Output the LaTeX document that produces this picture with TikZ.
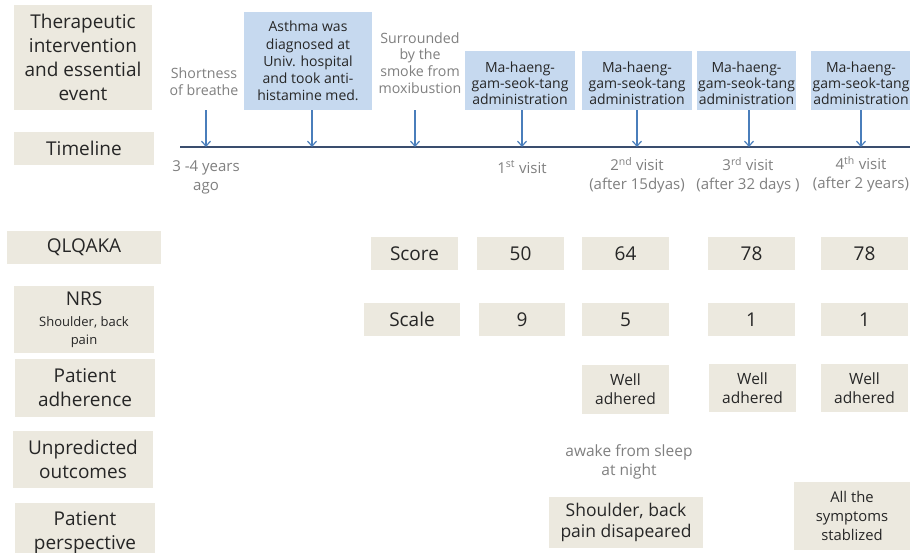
\documentclass[tikz,border=0pt]{standalone}
\usepackage{fontspec}
\setmainfont{Open Sans}
\usetikzlibrary{arrows.meta}
\definecolor{beige}{HTML}{ECE9DF}
\definecolor{blueb}{HTML}{C6D9EF}
\definecolor{arrowc}{HTML}{4A7EBB}
\definecolor{linec}{HTML}{3A4D6E}
\definecolor{darkt}{HTML}{262626}
\definecolor{greyt}{HTML}{7F7F7F}
\tikzset{
  lab/.style={fill=beige, text=darkt, align=center, inner sep=0pt, font=\fontsize{19}{24}\selectfont},
  bl/.style={fill=blueb, text=darkt, align=center, inner sep=0pt, font=\fontsize{14}{17.2}\selectfont},
  bltext/.style={text=darkt, align=center, inner sep=0pt, font=\fontsize{14}{16.2}\selectfont},
  val/.style={fill=beige, text=darkt, align=center, inner sep=0pt, minimum height=33pt, minimum width=87pt, font=\fontsize{19}{22}\selectfont},
  wa/.style={fill=beige, text=darkt, align=center, inner sep=0pt, minimum width=87pt, font=\fontsize{15.5}{19}\selectfont},
  gr/.style={text=greyt, align=center, inner sep=0pt, font=\fontsize{14.2}{16.7}\selectfont},
  tl/.style={text=greyt, align=center, inner sep=0pt, font=\fontsize{15}{19}\selectfont},
  arr/.style={draw=arrowc, line width=1.2pt, -{Straight Barb[length=5pt,width=9pt]}},
}
\begin{document}
\begin{tikzpicture}[x=1pt,y=-1pt]
\useasboundingbox (0,0) rectangle (910,552);
\clip (0,0) rectangle (910,552);

% left labels
\node[lab, minimum width=138pt, minimum height=105pt] (l1) at (83,57.5) {Therapeutic\\intervention\\and essential\\event};
\node[lab, minimum width=140pt, minimum height=33pt] (l2) at (84,148.5) {Timeline};
\node[lab, minimum width=154pt, minimum height=33pt] (l3) at (84,247.5) {QLQAKA};
\node[lab, minimum width=140pt, minimum height=67pt] (l4) at (84,319.5) {NRS\\[-3pt]\fontsize{13}{15.5}\selectfont Shoulder, back\\[-6pt]\fontsize{13}{15.5}\selectfont pain};
\node[lab, minimum width=140pt, minimum height=58pt] (l5) at (85,388) {Patient\\adherence};
\node[lab, minimum width=140pt, minimum height=57pt] (l6) at (83,459.5) {Unpredicted\\outcomes};
\node[lab, minimum width=140pt, minimum height=60pt] (l7) at (85,533) {Patient\\perspective};

% events
\node[gr] (e1) at (204,82) {Shortness\\of breathe};
\node[bl, minimum width=128pt, minimum height=98pt] (e2) at (308,61) {Asthma was\\diagnosed at\\Univ. hospital\\and took anti-\\histamine med.};
\node[gr] (e3) at (420,63) {Surrounded\\by the\\smoke from\\moxibustion};
\node[bl, minimum width=110pt, minimum height=59pt] (m1) at (520,80.5) {};
\node[bl, minimum width=110pt, minimum height=59pt] (m2) at (637,80.5) {};
\node[bl, minimum width=99pt, minimum height=59pt] (m3) at (746.5,80.5) {};
\node[bl, minimum width=100pt, minimum height=59pt] (m4) at (861,80.5) {};
\node[bltext] (m1t) at ([yshift=-3pt]m1.center) {Ma-haeng-\\gam-seok-tang\\administration};
\node[bltext] (m2t) at ([yshift=-3pt]m2.center) {Ma-haeng-\\gam-seok-tang\\administration};
\node[bltext] (m3t) at ([yshift=-3pt]m3.center) {Ma-haeng-\\gam-seok-tang\\administration};
\node[bltext] (m4t) at ([yshift=-3pt]m4.center) {Ma-haeng-\\gam-seok-tang\\administration};

% timeline
\coordinate (ts) at (180,147);
\coordinate (te) at (912,147);
\draw[linec, line width=1.5pt] (ts) -- (te);
\coordinate (a1) at (206,110);
\coordinate (a3) at (415,110);
\coordinate (t1) at (206,147);
\coordinate (t2) at (312,147);
\coordinate (t3) at (415,147);
\coordinate (t4) at (522,147);
\coordinate (t5) at (637,147);
\coordinate (t6) at (749,147);
\coordinate (t7) at (861,147);
\draw[arr] (a1) -- (t1);
\draw[arr] (e2.south -| t2) -- (t2);
\draw[arr] (a3) -- (t3);
\draw[arr] (m1.south -| t4) -- (t4);
\draw[arr] (m2.south -| t5) -- (t5);
\draw[arr] (m3.south -| t6) -- (t6);
\draw[arr] (m4.south -| t7) -- (t7);

% timeline labels
\node[tl] (d1) at (206,177) {3 -4 years\\ago};
\node[tl] (d4) at (522,167) {1\textsuperscript{st} visit};
\node[tl] (d5) at (637,175.5) {2\textsuperscript{nd} visit\\(after 15dyas)};
\node[tl] (d6) at (748,175.5) {3\textsuperscript{rd} visit\\(after 32 days )};
\node[tl] (d7) at (861,174.5) {4\textsuperscript{th} visit\\(after 2 years)};

% QLQAKA
\node[val] (s0) at (414.5,253.5) {Score};
\node[val] (s1) at (520.5,253.5) {50};
\node[val] (s2) at (625.5,253.5) {64};
\node[val] (s3) at (751.5,253.5) {78};
\node[val] (s4) at (864.5,253.5) {78};

% NRS
\node[val, minimum width=96pt] (n0) at (412,319.5) {Scale};
\node[val, minimum width=86pt] (n1) at (522,319.5) {9};
\node[val] (n2) at (625.5,319.5) {5};
\node[val] (n3) at (751.5,319.5) {1};
\node[val] (n4) at (864.5,319.5) {1};

% adherence
\node[wa, minimum height=49pt] (w2) at (625.5,389.5) {Well\\adhered};
\node[wa, minimum height=48pt] (w3) at (752.5,388) {Well\\adhered};
\node[wa, minimum height=48pt] (w4) at (864.5,388) {Well\\adhered};

% unpredicted
\node[tl, font=\fontsize{15.5}{19}\selectfont] (u2) at (629,462) {awake from sleep\\at night};

% perspective
\node[lab, minimum width=154pt, minimum height=51pt, font=\fontsize{17.5}{21}\selectfont] (p2) at (626,522.5) {Shoulder, back\\pain disapeared};
\node[lab, minimum width=116pt, minimum height=68pt, font=\fontsize{14.8}{19}\selectfont] (p4) at (852,516) {All the\\symptoms\\stablized};
\end{tikzpicture}
\end{document}
